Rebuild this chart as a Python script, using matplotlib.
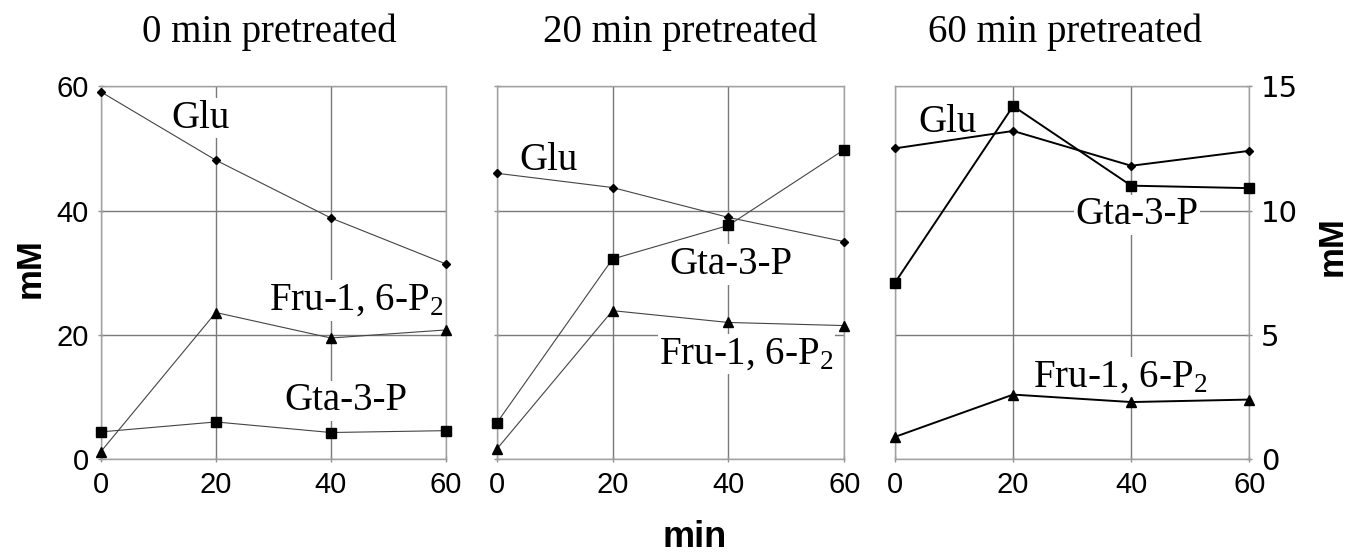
import matplotlib
matplotlib.use("Agg")
import matplotlib.pyplot as plt

plt.rcParams["mathtext.fontset"] = "custom"
plt.rcParams["mathtext.rm"] = "Liberation Serif"
plt.rcParams["mathtext.default"] = "rm"

minutes = [0, 20, 40, 60]

# 0 min pretreated
glu_0 = [59.1, 48.1, 38.8, 31.4]
fru_0 = [1.2, 23.6, 19.5, 20.8]
gta_0 = [4.4, 6.0, 4.3, 4.6]

# 20 min pretreated
glu_20 = [46.0, 43.7, 38.9, 35.0]
fru_20 = [1.6, 23.9, 22.0, 21.5]
gta_20 = [5.8, 32.2, 37.6, 49.8]

# 60 min pretreated (right axis, 0-15)
glu_60 = [12.5, 13.2, 11.8, 12.4]
fru_60 = [0.9, 2.6, 2.3, 2.4]
gta_60 = [7.1, 14.2, 11.0, 10.9]

titles = ["0 min pretreated", "20 min pretreated", "60 min pretreated"]
x_ticks = [0, 20, 40, 60]
y_ticks_left = [0, 20, 40, 60]
y_ticks_right = [0, 5, 10, 15]

SERIF = "Liberation Serif"
SANS = "Liberation Sans"
GRID = "#7a7a7a"
FRU_LABEL = "Fru-1, 6-P$_2$"

fig = plt.figure(figsize=(13.54, 5.56), dpi=100)

panels = [
    ([0.0744, 0.174, 0.2550, 0.671], glu_0, gta_0, fru_0, 60, y_ticks_left, 0.8, "#444444",
     [(12.3, 53.3, "Glu"), (29.3, 24.0, FRU_LABEL), (31.9, 7.9, "Gta-3-P")]),
    ([0.3668, 0.174, 0.2567, 0.671], glu_20, gta_20, fru_20, 60, y_ticks_left, 0.8, "#444444",
     [(3.9, 46.6, "Glu"), (29.9, 29.8, "Gta-3-P"), (28.1, 15.4, FRU_LABEL)]),
    ([0.6610, 0.174, 0.2617, 0.671], glu_60, gta_60, fru_60, 15, y_ticks_right, 1.4, "black",
     [(3.9, 13.16, "Glu"), (30.5, 9.44, "Gta-3-P"), (23.4, 2.92, FRU_LABEL)]),
]

title_x = [269, 680, 1065]

for i, (rect, glu, gta, fru, ymax, yticks, lw, lc, labels) in enumerate(panels):
    ax = fig.add_axes(rect)
    ax.set_xlim(0, 60)
    ax.set_ylim(0, ymax)
    ax.set_xticks(x_ticks)
    ax.set_yticks(yticks)
    ax.grid(True, color=GRID, linewidth=1.0, zorder=0)
    for spine in ax.spines.values():
        spine.set_color("#a0a0a0")
        spine.set_linewidth(1.0)
    ax.tick_params(direction="inout", length=5, color="#909090", width=1.0,
                   labelsize=21, pad=6)
    for lab in ax.get_xticklabels() + ax.get_yticklabels():
        lab.set_fontfamily(SANS)

    if i == 1:
        ax.tick_params(axis="y", labelleft=False)
    elif i == 2:
        ax.yaxis.tick_right()
        ax.tick_params(axis="y", labelright=True, labelleft=False)

    ax.plot(minutes, glu, color=lc, linewidth=lw, marker="D", markersize=4.5,
            markerfacecolor="black", markeredgecolor="black", zorder=3, clip_on=False)
    ax.plot(minutes, gta, color=lc, linewidth=lw, marker="s", markersize=6.5,
            markerfacecolor="black", markeredgecolor="black", zorder=3, clip_on=False)
    ax.plot(minutes, fru, color=lc, linewidth=lw, marker="^", markersize=6.5,
            markerfacecolor="black", markeredgecolor="black", zorder=3, clip_on=False)

    for tx, ty, text in labels:
        ax.text(tx, ty, text, fontsize=28, family=SERIF, ha="left", va="baseline",
                zorder=2, bbox=dict(facecolor="white", edgecolor="none", pad=1))

    fig.text(title_x[i] / 1354, 1 - 42 / 556, titles[i], fontsize=28, family=SERIF,
             ha="center", va="baseline")

fig.text(30 / 1354, 1 - 268 / 556, "mM", fontsize=25, family=SANS, fontweight="bold",
         rotation=90, ha="center", va="center")
fig.text(1332 / 1354, 1 - 246 / 556, "mM", fontsize=25, family=SANS, fontweight="bold",
         rotation=90, ha="center", va="center")
fig.text(695 / 1354, 9 / 556, "min", fontsize=26, family=SANS, fontweight="bold",
         ha="center", va="baseline")

fig.savefig("out.png", dpi=100)
